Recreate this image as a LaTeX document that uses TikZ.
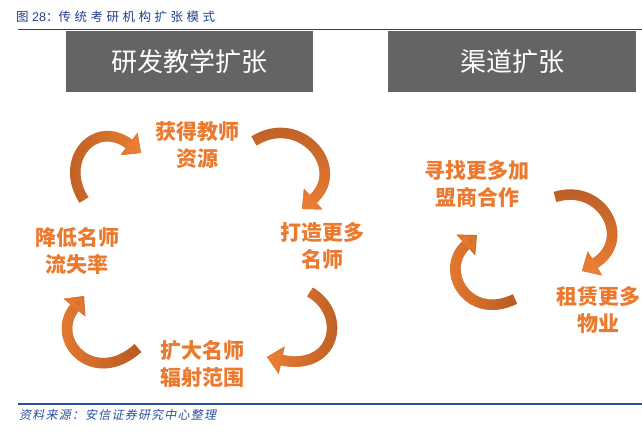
\documentclass[tikz,border=0pt]{standalone}
\usepackage{fontspec}
\setmainfont{Liberation Sans}
\newfontfamily\cjk{Noto Sans CJK SC}
\newfontfamily\capfont{Noto Sans CJK SC}[LetterSpace=28]
\newfontfamily\notefont{Noto Sans CJK SC}[LetterSpace=10,FakeSlant=0.2]
\usetikzlibrary{arrows.meta, fadings}
\definecolor{rptblue}{HTML}{1F3F8F}
\definecolor{rptline}{HTML}{2B4FA0}
\definecolor{hdrgray}{HTML}{646464}
\definecolor{rbnlight}{HTML}{EE7F33}
\definecolor{rbndark}{HTML}{B65B24}
\definecolor{stagetxt}{HTML}{EB7A2E}
\tikzset{
  hdr/.style={rectangle, fill=hdrgray, minimum height=61pt, inner sep=0pt,
    font=\cjk\fontsize{26}{30}\selectfont, text=white},
  stage/.style={font=\cjk\bfseries\fontsize{21}{27}\selectfont, text=stagetxt,
    align=center, inner sep=0pt},
  ribbon/.style={line width=10.5pt, draw=rbndark, -{Triangle[width=27pt,length=15pt]}},
  ribbontop/.style={line width=10.5pt, draw=rbnlight, -{Triangle[width=27pt,length=15pt]},
    path fading=#1},
  rule/.style={line width=#1, draw=rptline},
}

\begin{document}
\begin{tikzpicture}[x=1pt, y=-1pt]
  \useasboundingbox (0,0) rectangle (642,440);
  \node[anchor=west, inner sep=0pt, text=rptblue, font=\fontsize{12.5}{14}\selectfont] (cap) at (16,17)
    {{\cjk 图} 28{\cjk ：}{\capfont 传统考研机构扩张模式}};
  \coordinate (t0) at (18,29.5);
  \coordinate (t1) at (642,29.5);
  \draw[rule=1.2pt, draw=rptblue] (t0) -- (t1);

  \node[hdr, minimum width=247pt] (rd) at (189.5,61.5) {研发教学扩张};
  \node[hdr, minimum width=248pt] (qd) at (512,61.5) {渠道扩张};

  \node[stage] (s1) at (197,145) {获得教师\\资源};
  \node[stage] (s2) at (322,246) {打造更多\\名师};
  \node[stage] (s3) at (202,364) {扩大名师\\辐射范围};
  \node[stage] (s4) at (77,251) {降低名师\\流失率};
  \node[stage] (c1) at (477,184) {寻找更多加\\盟商合作};
  \node[stage] (c2) at (598,310) {租赁更多\\物业};

  \coordinate (a1s) at (84,200);  \coordinate (a1e) at (141,153);
  \coordinate (a2s) at (254,141); \coordinate (a2e) at (302,209);
  \coordinate (a3s) at (310,292); \coordinate (a3e) at (267,357);
  \coordinate (a4s) at (138,348); \coordinate (a4e) at (84,296);
  \coordinate (b1s) at (555,197); \coordinate (b1e) at (582,271);
  \coordinate (b2s) at (515,299); \coordinate (b2e) at (477,235);

  \draw[ribbon] (a1s) .. controls (58,160) and (95,118) .. (a1e);
  \draw[ribbontop=west] (a1s) .. controls (58,160) and (95,118) .. (a1e);
  \draw[ribbon] (a2s) .. controls (300,112) and (348,168) .. (a2e);
  \draw[ribbontop=north] (a2s) .. controls (300,112) and (348,168) .. (a2e);
  \draw[ribbon] (a3s) .. controls (348,314) and (336,372) .. (a3e);
  \draw[ribbontop=east] (a3s) .. controls (348,314) and (336,372) .. (a3e);
  \draw[ribbon] (a4s) .. controls (94,388) and (48,340) .. (a4e);
  \draw[ribbontop=east] (a4s) .. controls (94,388) and (48,340) .. (a4e);
  \draw[ribbon] (b1s) .. controls (602,182) and (634,240) .. (b1e);
  \draw[ribbontop=north] (b1s) .. controls (602,182) and (634,240) .. (b1e);
  \draw[ribbon] (b2s) .. controls (468,322) and (438,270) .. (b2e);
  \draw[ribbontop=east] (b2s) .. controls (468,322) and (438,270) .. (b2e);

  \coordinate (u0) at (18,404);
  \coordinate (u1) at (642,404);
  \draw[rule=1.6pt] (u0) -- (u1);
  \node[anchor=west, inner sep=0pt, text=rptline, font=\notefont\fontsize{12}{14}\selectfont] (src) at (19,415)
    {资料来源：安信证券研究中心整理};
\end{tikzpicture}
\end{document}
